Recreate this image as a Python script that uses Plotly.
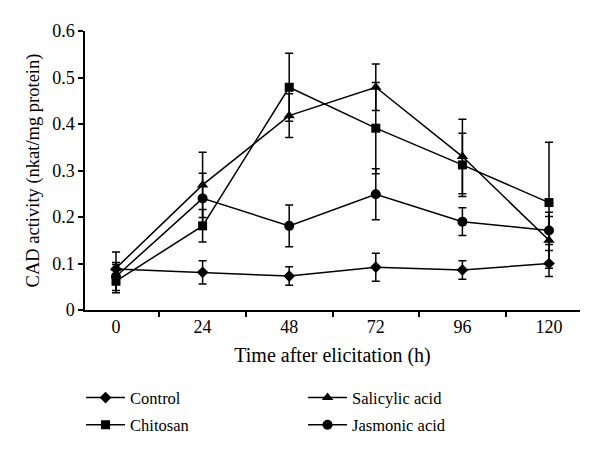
import plotly.graph_objects as go

times = ["0", "24", "48", "72", "96", "120"]

control = [0.088, 0.081, 0.073, 0.092, 0.086, 0.100]
control_err = [0.010, 0.025, 0.020, 0.030, 0.020, 0.028]

chitosan = [0.062, 0.181, 0.479, 0.391, 0.312, 0.231]
chitosan_err = [0.025, 0.035, 0.073, 0.098, 0.068, 0.130]

salicylic = [0.090, 0.269, 0.418, 0.479, 0.330, 0.150]
salicylic_err = [0.035, 0.070, 0.047, 0.050, 0.080, 0.060]

jasmonic = [0.072, 0.240, 0.181, 0.249, 0.190, 0.171]
jasmonic_err = [0.030, 0.054, 0.045, 0.055, 0.030, 0.030]

FONT = "Liberation Serif"

series = [
    ("Control", control, control_err, "diamond", 9, "legend"),
    ("Salicylic acid", salicylic, salicylic_err, "triangle-up", 10, "legend"),
    ("Chitosan", chitosan, chitosan_err, "square", 9, "legend2"),
    ("Jasmonic acid", jasmonic, jasmonic_err, "circle", 10, "legend2"),
]

fig = go.Figure()
for name, vals, errs, sym, sz, leg in series:
    fig.add_trace(go.Scatter(
        x=times, y=vals, name=name, mode="lines+markers",
        line=dict(color="black", width=1.5),
        marker=dict(symbol=sym, size=sz, color="black"),
        error_y=dict(type="data", array=errs, visible=True,
                     color="black", thickness=1.5, width=4),
        legend=leg,
    ))

legend_common = dict(
    orientation="h", xanchor="left", yanchor="middle",
    entrywidth=168, entrywidthmode="pixels", itemwidth=39,
    font=dict(family=FONT, size=16.5, color="black"),
    bgcolor="rgba(0,0,0,0)",
)

fig.update_layout(
    width=600, height=458,
    margin=dict(l=77, r=28, t=23, b=156),
    paper_bgcolor="white", plot_bgcolor="white",
    font=dict(family=FONT, size=18, color="black"),
    showlegend=True,
    legend=dict(x=-0.008, y=-0.315, **legend_common),
    legend2=dict(x=-0.008, y=-0.412, **legend_common),
    xaxis=dict(
        type="category", tickson="boundaries", automargin=False,
        showline=True, linecolor="black", linewidth=1.5,
        ticks="outside", ticklen=5, tickwidth=1.5, tickcolor="black",
        showgrid=False, zeroline=False,
        tickfont=dict(family=FONT, size=18, color="black"),
        title=dict(text="Time after elicitation (h)",
                   font=dict(family=FONT, size=20, color="black"), standoff=12),
    ),
    yaxis=dict(
        range=[0, 0.6], dtick=0.1, tick0=0, automargin=False,
        showline=True, linecolor="black", linewidth=1.5,
        ticks="outside", ticklen=5, tickwidth=1.5, tickcolor="black",
        showgrid=False, zeroline=False,
        tickfont=dict(family=FONT, size=18, color="black"),
        title=dict(text="CAD activity (nkat/mg protein)",
                   font=dict(family=FONT, size=18.5, color="black"), standoff=8),
    ),
)

fig.write_html("out.html")
